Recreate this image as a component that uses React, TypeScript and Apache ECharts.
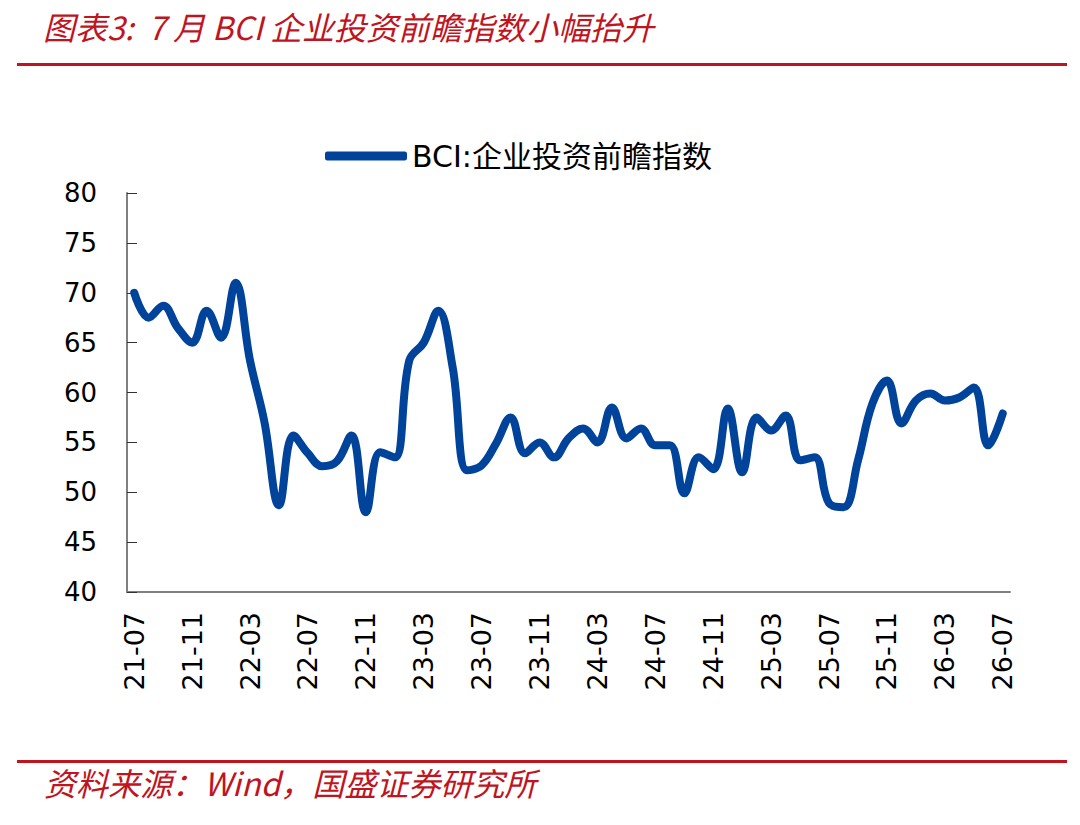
import React, { useEffect, useRef } from "react";
import * as echarts from "echarts";

const months: string[] = [];
for (let y = 21; y <= 26; y++) {
  for (let m = 1; m <= 12; m++) {
    if ((y === 21 && m < 7) || (y === 26 && m > 7)) continue;
    months.push(`${y}-${m < 10 ? "0" + m : m}`);
  }
}

const seriesName = "BCI:企业投资前瞻指数";
const bciValues = [
  70.0, 67.5, 68.7, 66.5, 65.0, 68.2, 65.5, 71.0, 63.2, 57.0,
  48.7, 55.7, 53.9, 52.6, 53.1, 55.7, 48.0, 54.0, 53.5, 63.2,
  65.0, 68.2, 62.5, 52.2, 52.7, 54.9, 57.5, 53.9, 55.0, 53.5,
  55.4, 56.4, 55.0, 58.5, 55.4, 56.4, 54.7, 54.7, 49.9, 53.5,
  52.3, 58.4, 52.0, 57.5, 56.2, 57.7, 53.2, 53.5, 48.9, 48.5,
  53.2, 58.9, 61.2, 56.9, 59.2, 59.9, 59.2, 59.5, 60.5, 54.7,
  57.9,
];
const yTicks = { min: 40, max: 80, interval: 5 };

const titleText = "图表3:  7 月 BCI 企业投资前瞻指数小幅抬升";
const sourceText = "资料来源：Wind，国盛证券研究所";

export default function App() {
  const ref = useRef<HTMLDivElement>(null);
  useEffect(() => {
    document.body.style.margin = "0";
    const chart = echarts.init(ref.current!, null, { renderer: "svg" });
    const red = "#C0141E";
    chart.setOption({
      animation: false,
      backgroundColor: "#ffffff",
      graphic: [
        {
          type: "text",
          left: 43,
          top: 10,
          style: {
            text: titleText,
            fill: red,
            font: "italic 32px 'Noto Sans CJK SC', 'DejaVu Sans', sans-serif",
          },
        },
        {
          type: "rect",
          shape: { x: 17, y: 63, width: 1050, height: 3 },
          style: { fill: red },
        },
        {
          type: "rect",
          shape: { x: 17, y: 760, width: 1050, height: 3 },
          style: { fill: red },
        },
        {
          type: "text",
          left: 44,
          top: 766,
          style: {
            text: sourceText,
            fill: red,
            font: "italic 32px 'Noto Sans CJK SC', 'DejaVu Sans', sans-serif",
          },
        },
      ],
      legend: {
        data: [seriesName],
        left: 320,
        top: 136,
        icon: "roundRect",
        itemWidth: 82,
        itemHeight: 9,
        itemGap: 6,
        textStyle: {
          fontSize: 30,
          color: "#000",
          fontFamily: "'DejaVu Sans', 'Noto Sans CJK SC', sans-serif",
        },
      },
      grid: { left: 127, right: 70, top: 193, bottom: 233, containLabel: false },
      xAxis: {
        type: "category",
        data: months,
        boundaryGap: true,
        axisLine: { lineStyle: { color: "#808080", width: 2 } },
        axisTick: { inside: true, interval: 3, length: 8, lineStyle: { color: "#333" } },
        axisLabel: {
          interval: 3,
          rotate: 90,
          margin: 20,
          fontSize: 27,
          color: "#000",
          fontFamily: "'DejaVu Sans', sans-serif",
        },
      },
      yAxis: {
        type: "value",
        min: yTicks.min,
        max: yTicks.max,
        interval: yTicks.interval,
        splitLine: { show: false },
        axisLine: { show: true, lineStyle: { color: "#808080", width: 2 } },
        axisTick: { show: true, inside: true, length: 10, lineStyle: { color: "#333" } },
        axisLabel: {
          margin: 30,
          fontSize: 26,
          color: "#000",
          fontFamily: "'DejaVu Sans', sans-serif",
        },
      },
      series: [
        {
          name: seriesName,
          type: "line",
          data: bciValues,
          smooth: 0.4,
          showSymbol: false,
          symbol: "none",
          lineStyle: { color: "#00439B", width: 8, cap: "round", join: "round" },
          itemStyle: { color: "#00439B" },
        },
      ],
    });
    return () => chart.dispose();
  }, []);
  return <div ref={ref} style={{ width: 1080, height: 825 }} />;
}
